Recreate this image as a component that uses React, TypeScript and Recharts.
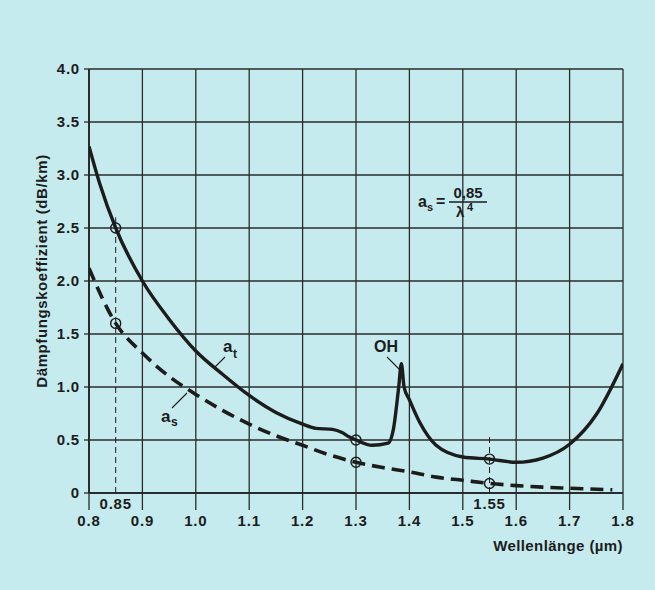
import {
	CartesianGrid,
	ComposedChart,
	Line,
	ReferenceDot,
	ReferenceLine,
	XAxis,
	YAxis,
} from 'recharts'

// total attenuation a_t (solid curve)
const totalWavelengths = [
	0.8, 0.82, 0.85, 0.9, 0.95, 1.0, 1.05, 1.1, 1.15, 1.2, 1.225, 1.256, 1.274,
	1.287, 1.3, 1.33, 1.36, 1.37, 1.38, 1.385, 1.39, 1.4, 1.42, 1.45, 1.5, 1.55,
	1.6, 1.65, 1.7, 1.75, 1.8,
]
const totalLoss = [
	3.27, 2.92, 2.5, 2.0, 1.64, 1.34, 1.12, 0.92, 0.76, 0.65, 0.61, 0.6, 0.57,
	0.53, 0.5, 0.45, 0.47, 0.6, 1.0, 1.22, 1.0, 0.88, 0.66, 0.45, 0.34, 0.32,
	0.29, 0.33, 0.46, 0.74, 1.22,
]

// Rayleigh scattering a_s (dashed curve)
const scatterWavelengths = [
	0.8, 0.85, 0.9, 0.95, 1.0, 1.05, 1.1, 1.15, 1.2, 1.25, 1.3, 1.35, 1.4, 1.45,
	1.5, 1.55, 1.6, 1.65, 1.7, 1.78,
]
const scatterLoss = [
	2.12, 1.6, 1.32, 1.1, 0.93, 0.78, 0.65, 0.54, 0.45, 0.36, 0.29, 0.24, 0.2,
	0.15, 0.12, 0.09, 0.07, 0.055, 0.045, 0.03,
]

const markedX = [0.85, 0.85, 1.3, 1.3, 1.55, 1.55]
const markedY = [2.5, 1.6, 0.5, 0.29, 0.32, 0.09]

const xTicks = [0.8, 0.9, 1.0, 1.1, 1.2, 1.3, 1.4, 1.5, 1.6, 1.7, 1.8]
const yTicks = [0, 0.5, 1.0, 1.5, 2.0, 2.5, 3.0, 3.5, 4.0]

const BG = '#c5ebee'
const INK = '#1c1c1c'
const FONT = '"Liberation Sans", Arial, sans-serif'

export default function App() {
	const totalData = totalWavelengths.map((x, i) => ({ x, v: totalLoss[i] }))
	const scatterData = scatterWavelengths.map((x, i) => ({ x, v: scatterLoss[i] }))

	const tickStyle = {
		fill: INK,
		fontSize: 15,
		fontWeight: 700,
		fontFamily: FONT,
		letterSpacing: 0.8,
	}

	return (
		<div
			style={{
				position: 'fixed',
				left: 0,
				top: 0,
				width: 655,
				height: 590,
				background: BG,
				fontFamily: FONT,
			}}
		>
			<ComposedChart
				width={655}
				height={590}
				margin={{ top: 69, right: 32, bottom: 57, left: 29 }}
			>
				<CartesianGrid stroke="#2b2b2b" strokeWidth={1.3} />
				<XAxis
					type="number"
					dataKey="x"
					domain={[0.8, 1.8]}
					ticks={xTicks}
					allowDataOverflow
					height={40}
					tickSize={17}
					tickMargin={5}
					tick={tickStyle}
					tickFormatter={(v: number) => v.toFixed(1)}
					axisLine={{ stroke: INK, strokeWidth: 1.6 }}
					tickLine={{ stroke: '#2b2b2b', strokeWidth: 1.3 }}
				/>
				<YAxis
					type="number"
					domain={[0, 4]}
					ticks={yTicks}
					width={60}
					tickSize={5}
					tickMargin={4}
					tick={tickStyle}
					tickFormatter={(v: number) => (v === 0 ? '0' : v.toFixed(1))}
					axisLine={{ stroke: INK, strokeWidth: 1.6 }}
					tickLine={{ stroke: '#2b2b2b', strokeWidth: 1.3 }}
				/>
				<ReferenceLine
					segment={[
						{ x: 0.85, y: 0 },
						{ x: 0.85, y: 2.6 },
					]}
					stroke={INK}
					strokeWidth={1}
					strokeDasharray="6 4"
				/>
				<ReferenceLine
					segment={[
						{ x: 1.55, y: 0 },
						{ x: 1.55, y: 0.55 },
					]}
					stroke={INK}
					strokeWidth={1}
					strokeDasharray="6 4"
				/>
				<Line
					data={scatterData}
					dataKey="v"
					type="monotone"
					stroke={INK}
					strokeWidth={3.6}
					strokeDasharray="13 7"
					dot={false}
					isAnimationActive={false}
				/>
				<Line
					data={totalData}
					dataKey="v"
					type="monotone"
					stroke={INK}
					strokeWidth={3.4}
					dot={false}
					isAnimationActive={false}
				/>
				{markedX.map((x, i) => (
					<ReferenceDot
						key={i}
						x={x}
						y={markedY[i]}
						r={5}
						fill="none"
						stroke={INK}
						strokeWidth={1.4}
					/>
				))}
				<ReferenceDot
					x={0.85}
					y={0}
					r={0}
					ifOverflow="visible"
					label={{ value: '0.85', position: 'bottom', offset: 5, ...tickStyle }}
				/>
				<ReferenceDot
					x={1.55}
					y={0}
					r={0}
					ifOverflow="visible"
					label={{ value: '1.55', position: 'bottom', offset: 5, ...tickStyle }}
				/>
			</ComposedChart>

			<svg
				width={655}
				height={590}
				style={{ position: 'absolute', left: 0, top: 0, pointerEvents: 'none' }}
				fontFamily={FONT}
				fontWeight={700}
				fill={INK}
			>
				<text
					x={0}
					y={0}
					fontSize={15}
					letterSpacing={0.6}
					textAnchor="middle"
					transform="translate(47 271) rotate(-90)"
				>
					Dämpfungskoeffizient (dB/km)
				</text>
				<text x={623} y={551} fontSize={15} letterSpacing={0.4} textAnchor="end">
					Wellenlänge (µm)
				</text>

				{/* a_t label */}
				<text x={223} y={352} fontSize={17}>a</text>
				<text x={233} y={358} fontSize={12}>t</text>
				<line x1={225} y1={357} x2={214} y2={368} stroke={INK} strokeWidth={1.1} />

				{/* a_s label */}
				<text x={161} y={422} fontSize={17}>a</text>
				<text x={171} y={426} fontSize={12}>s</text>
				<line x1={172} y1={408} x2={187} y2={393} stroke={INK} strokeWidth={1.1} />

				{/* OH peak */}
				<text x={386} y={352} fontSize={16} textAnchor="middle">OH</text>
				<line x1={387} y1={357} x2={400} y2={370} stroke={INK} strokeWidth={1.1} />

				{/* formula a_s = 0,85 / λ^4 */}
				<text x={418} y={207} fontSize={16}>a</text>
				<text x={427} y={211} fontSize={11}>s</text>
				<text x={436} y={207} fontSize={16}>=</text>
				<text x={468} y={198} fontSize={15} textAnchor="middle">0,85</text>
				<line x1={449} y1={202} x2={487} y2={202} stroke={INK} strokeWidth={1.6} />
				<text x={456} y={217} fontSize={15}>λ</text>
				<text x={467} y={211} fontSize={11}>4</text>
			</svg>
		</div>
	)
}
